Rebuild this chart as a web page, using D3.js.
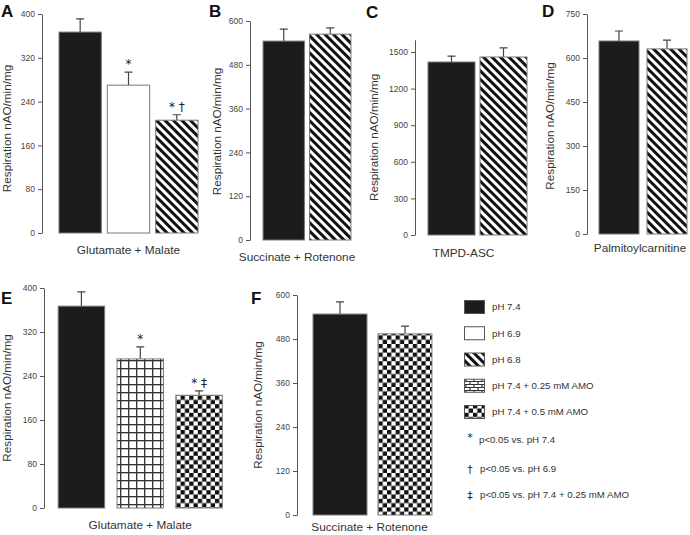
<!DOCTYPE html>
<html>
<head>
<meta charset="utf-8">
<script src="https://cdn.jsdelivr.net/npm/d3@7"></script>
<style>
  body { margin: 0; background: #fff; }
  svg text { font-family: "Liberation Sans", Arial, sans-serif; fill: #333; }
  .axis path, .axis line { stroke: #555; }
  .axis text { font-size: 8.5px; fill: #444; }
  .sym { font-family: "DejaVu Sans", sans-serif !important; }
</style>
</head>
<body>
<div id="chart"></div>
<script>
// Data (mean, error bar = + SEM)
const groupsA = ["pH 7.4", "pH 6.9", "pH 6.8"];
const meanA = [367, 270, 206];
const semA = [24, 24, 10];
const markA = ["", "*", "* \u2020"];

const groupsB = ["pH 7.4", "pH 6.8"];
const meanB = [545, 564];
const semB = [33, 17];

const groupsC = ["pH 7.4", "pH 6.8"];
const meanC = [1418, 1459];
const semC = [49, 74];

const groupsD = ["pH 7.4", "pH 6.8"];
const meanD = [658, 631];
const semD = [34, 30];

const groupsE = ["pH 7.4", "pH 7.4 + 0.25 mM AMO", "pH 7.4 + 0.5 mM AMO"];
const meanE = [367, 271, 205];
const semE = [26, 22, 8];
const markE = ["", "*", "* \u2021"];

const groupsF = ["pH 7.4", "pH 7.4 + 0.5 mM AMO"];
const meanF = [548, 494];
const semF = [33, 21];

const ticksA = [0, 80, 160, 240, 320, 400];
const ticksB = [0, 120, 240, 360, 480, 600];
const ticksC = [0, 300, 600, 900, 1200, 1500];
const ticksD = [0, 150, 300, 450, 600, 750];

const legendLabels = ["pH 7.4", "pH 6.9", "pH 6.8", "pH 7.4 + 0.25 mM AMO", "pH 7.4 + 0.5 mM AMO"];
const noteSymbols = ["*", "\u2020", "\u2021"];
const noteLabels = ["p<0.05 vs. pH 7.4", "p<0.05 vs. pH 6.9", "p<0.05 vs. pH 7.4 + 0.25 mM AMO"];

const width = 690, height = 535;
const svg = d3.select("#chart").append("svg")
  .attr("width", width).attr("height", height);

// fill patterns
const defs = svg.append("defs");
const hatch = defs.append("pattern").attr("id", "hatch")
  .attr("patternUnits", "userSpaceOnUse").attr("width", 6).attr("height", 6)
  .attr("patternTransform", "rotate(-45)");
hatch.append("rect").attr("width", 6).attr("height", 6).attr("fill", "#fff");
hatch.append("rect").attr("width", 3).attr("height", 6).attr("fill", "#111");

const grid = defs.append("pattern").attr("id", "grid")
  .attr("patternUnits", "userSpaceOnUse").attr("width", 8).attr("height", 8);
grid.append("rect").attr("width", 8).attr("height", 8).attr("fill", "#fff");
grid.append("rect").attr("width", 1.3).attr("height", 8).attr("fill", "#333");
grid.append("rect").attr("width", 8).attr("height", 1.3).attr("fill", "#333");

const checker = defs.append("pattern").attr("id", "checker")
  .attr("patternUnits", "userSpaceOnUse").attr("width", 8.6).attr("height", 8.6);
checker.append("rect").attr("width", 8.6).attr("height", 8.6).attr("fill", "#fff");
checker.append("rect").attr("width", 4.3).attr("height", 4.3).attr("fill", "#111");
checker.append("rect").attr("x", 4.3).attr("y", 4.3).attr("width", 4.3).attr("height", 4.3).attr("fill", "#111");

const brick = defs.append("pattern").attr("id", "brick")
  .attr("patternUnits", "userSpaceOnUse").attr("width", 8).attr("height", 6)
  .attr("x", 464).attr("y", 378);
brick.append("rect").attr("width", 8).attr("height", 6).attr("fill", "#fff");
brick.append("path").attr("d", "M0,0.5H8M0,3.5H8M2,0V3M6,3V6")
  .attr("stroke", "#333").attr("stroke-width", 1.2);

const fills = {
  "pH 7.4": "#1d1b1c",
  "pH 6.9": "#fff",
  "pH 6.8": "url(#hatch)",
  "pH 7.4 + 0.25 mM AMO": "url(#grid)",
  "pH 7.4 + 0.5 mM AMO": "url(#checker)"
};

function panel(o) {
  const g = svg.append("g");
  const y = d3.scaleLinear().domain([0, o.max]).range([o.y0, o.y1]);
  const x = d3.scaleBand().domain(o.groups).range(o.xr)
    .paddingInner(o.pad).paddingOuter(o.pad / 2);

  g.append("g").attr("class", "axis")
    .attr("transform", `translate(${o.ax},0)`)
    .call(d3.axisLeft(y).tickValues(o.ticks).tickFormat(d3.format("d"))
      .tickSize(4).tickSizeOuter(0).tickPadding(3));

  const rows = o.groups.map((k, i) => ({ k, m: o.mean[i], s: o.sem[i], mark: o.marks ? o.marks[i] : "" }));

  // error bars (upper only)
  g.selectAll(".err").data(rows).enter().append("path")
    .attr("d", d => {
      const cx = x(d.k) + x.bandwidth() / 2;
      return `M${cx},${y(d.m)}V${y(d.m + d.s)}M${cx - 4},${y(d.m + d.s)}H${cx + 4}`;
    })
    .attr("stroke", "#444").attr("stroke-width", 1.2).attr("fill", "none");

  g.selectAll(".bar").data(rows).enter().append("rect")
    .attr("x", d => x(d.k)).attr("width", x.bandwidth())
    .attr("y", d => y(d.m)).attr("height", d => y(0) - y(d.m))
    .attr("fill", d => fills[d.k]).attr("stroke", "#7a7a7a").attr("stroke-width", 1);

  g.selectAll(".mark").data(rows.filter(d => d.mark)).enter().append("text")
    .attr("class", "sym")
    .attr("x", d => x(d.k) + x.bandwidth() / 2)
    .attr("y", d => y(d.m + d.s) - 4)
    .attr("text-anchor", "middle").style("font-size", "12px").style("fill", "#222")
    .text(d => d.mark);

  g.append("text").attr("x", (o.xr[0] + o.xr[1]) / 2 + (o.xlOff || 0)).attr("y", o.xly)
    .attr("text-anchor", "middle").style("font-size", "11.8px").text(o.xlabel);

  g.append("text")
    .attr("transform", `translate(${o.ylx},${(o.y0 + o.y1) / 2 + (o.ylOff || 0)}) rotate(-90)`)
    .attr("text-anchor", "middle").attr("dy", "0.35em")
    .style("font-size", "11.7px").text("Respiration nAO/min/mg");

  g.append("text").attr("x", o.lx).attr("y", o.ly)
    .style("font-size", "17px").style("font-weight", "bold").style("fill", "#111")
    .text(o.letter);
}

panel({ letter: "A", lx: 1, ly: 17, groups: groupsA, mean: meanA, sem: semA, marks: markA,
  ticks: ticksA, max: 400, y0: 233, y1: 14, ax: 42, xr: [56, 201], pad: 0.124,
  ylx: 7, ylOff: 5, xlabel: "Glutamate + Malate", xlOff: 0, xly: 254 });
panel({ letter: "B", lx: 209, ly: 17, groups: groupsB, mean: meanB, sem: semB,
  ticks: ticksB, max: 600, y0: 240, y1: 21, ax: 250, xr: [260.5, 353.5], pad: 0.11,
  ylx: 217, ylOff: 1, xlabel: "Succinate + Rotenone", xlOff: -10, xly: 261 });
panel({ letter: "C", lx: 366, ly: 18, groups: groupsC, mean: meanC, sem: semC,
  ticks: ticksC, max: 1600, y0: 235, y1: 39.8, ax: 415, xr: [425.5, 529.5], pad: 0.096,
  ylx: 374, ylOff: 0, xlabel: "TMPD-ASC", xlOff: -14, xly: 257 });
panel({ letter: "D", lx: 542, ly: 17, groups: groupsD, mean: meanD, sem: semD,
  ticks: ticksD, max: 750, y0: 234, y1: 14, ax: 587, xr: [595, 691], pad: 0.167,
  ylx: 550, ylOff: 2, xlabel: "Palmitoylcarnitine", xlOff: -3, xly: 252 });
panel({ letter: "E", lx: 1, ly: 304, groups: groupsE, mean: meanE, sem: semE, marks: markE,
  ticks: ticksA, max: 400, y0: 508, y1: 288, ax: 44, xr: [52, 228.5], pad: 0.21,
  ylx: 7, xlabel: "Glutamate + Malate", xlOff: 0, xly: 529 });
panel({ letter: "F", lx: 251, ly: 304, groups: groupsF, mean: meanF, sem: semF,
  ticks: ticksB, max: 600, y0: 515, y1: 295, ax: 297, xr: [307.5, 437.5], pad: 0.17,
  ylx: 258, xlabel: "Succinate + Rotenone", xlOff: -3, xly: 531 });

// legend
const legendFills = { ...fills, "pH 7.4 + 0.25 mM AMO": "url(#brick)" };
const leg = svg.append("g");
const ly = d3.scalePoint().domain(legendLabels).range([307, 412]);
leg.selectAll("rect").data(legendLabels).enter().append("rect")
  .attr("x", 464.5).attr("y", d => ly(d) - 6.5).attr("width", 20).attr("height", 13)
  .attr("fill", d => legendFills[d]).attr("stroke", "#555").attr("stroke-width", 1);
leg.selectAll(".lt").data(legendLabels).enter().append("text")
  .attr("x", 492).attr("y", d => ly(d)).attr("dy", "0.35em")
  .style("font-size", "9.7px").text(d => d);

const ny = [440, 469, 495];
leg.selectAll(".ns").data(noteSymbols).enter().append("text")
  .attr("class", "sym")
  .attr("x", 470).attr("y", (d, i) => i === 0 ? ny[i] - 3 : ny[i])
  .attr("dy", "0.35em").attr("text-anchor", "middle")
  .style("font-size", "11px").style("fill", "#222").text(d => d);
leg.selectAll(".nl").data(noteLabels).enter().append("text")
  .attr("x", (d, i) => i === 0 ? 479 : 480).attr("y", (d, i) => ny[i])
  .attr("dy", "0.35em").style("font-size", "9.7px").text(d => d);
</script>
</body>
</html>
